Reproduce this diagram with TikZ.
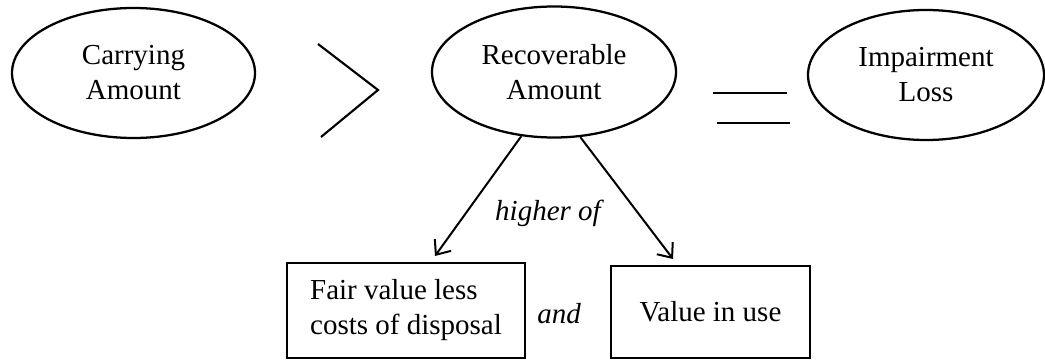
\documentclass[tikz,border=0pt]{standalone}
\usepackage{fontspec}
\setmainfont{Liberation Serif}
\usetikzlibrary{shapes.geometric,arrows.meta}

\begin{document}
\begin{tikzpicture}[x=0.75pt,y=-0.75pt,
  every node/.style={font=\fontsize{21.75pt}{26.25pt}\selectfont},
  oval/.style={draw,ellipse,line width=1.7pt,inner sep=0pt,align=center},
  box/.style={draw,rectangle,line width=1.1pt,inner sep=0pt},
  link/.style={line width=1.5pt,-{Straight Barb[length=9pt,width=15pt,line width=1.5pt]}},
  sign/.style={line width=1.6pt},
  word/.style={font=\fontsize{21.75pt}{26.25pt}\selectfont\itshape,anchor=base}]

  \useasboundingbox (0,0) rectangle (1045,360);

  % top row: the comparison
  \node[oval,minimum width=182.25pt,minimum height=97.5pt] (carry) at (133.5,73) {Carrying\\Amount};
  \node[oval,minimum width=183pt,minimum height=98.25pt] (rec) at (554,72) {Recoverable\\Amount};
  \node[oval,minimum width=177pt,minimum height=97.5pt] (loss) at (926,75) {Impairment\\Loss};

  % greater-than sign
  \draw[sign] (318,44) -- (378,90) -- (321,137);
  % equals sign
  \draw[sign] (713,93) -- (787,93);
  \draw[sign] (717,123) -- (790,123);

  % bottom row: the two measures
  \node[box,minimum width=178.5pt,minimum height=71.25pt,align=left] (fv) at (406,310.5)
    {Fair value less\\costs of disposal};
  \node[box,minimum width=149.25pt,minimum height=69pt] (viu) at (710.5,312) {Value in use};

  \coordinate (fvtip) at (435,256);
  \coordinate (viutip) at (673,259);
  \draw[link] (rec.243) -- (fvtip);
  \draw[link] (rec.292) -- (viutip);

  \node[word] (higher) at (548,220) {higher of};
  \node[word] (and) at (559,323) {and};
\end{tikzpicture}
\end{document}
